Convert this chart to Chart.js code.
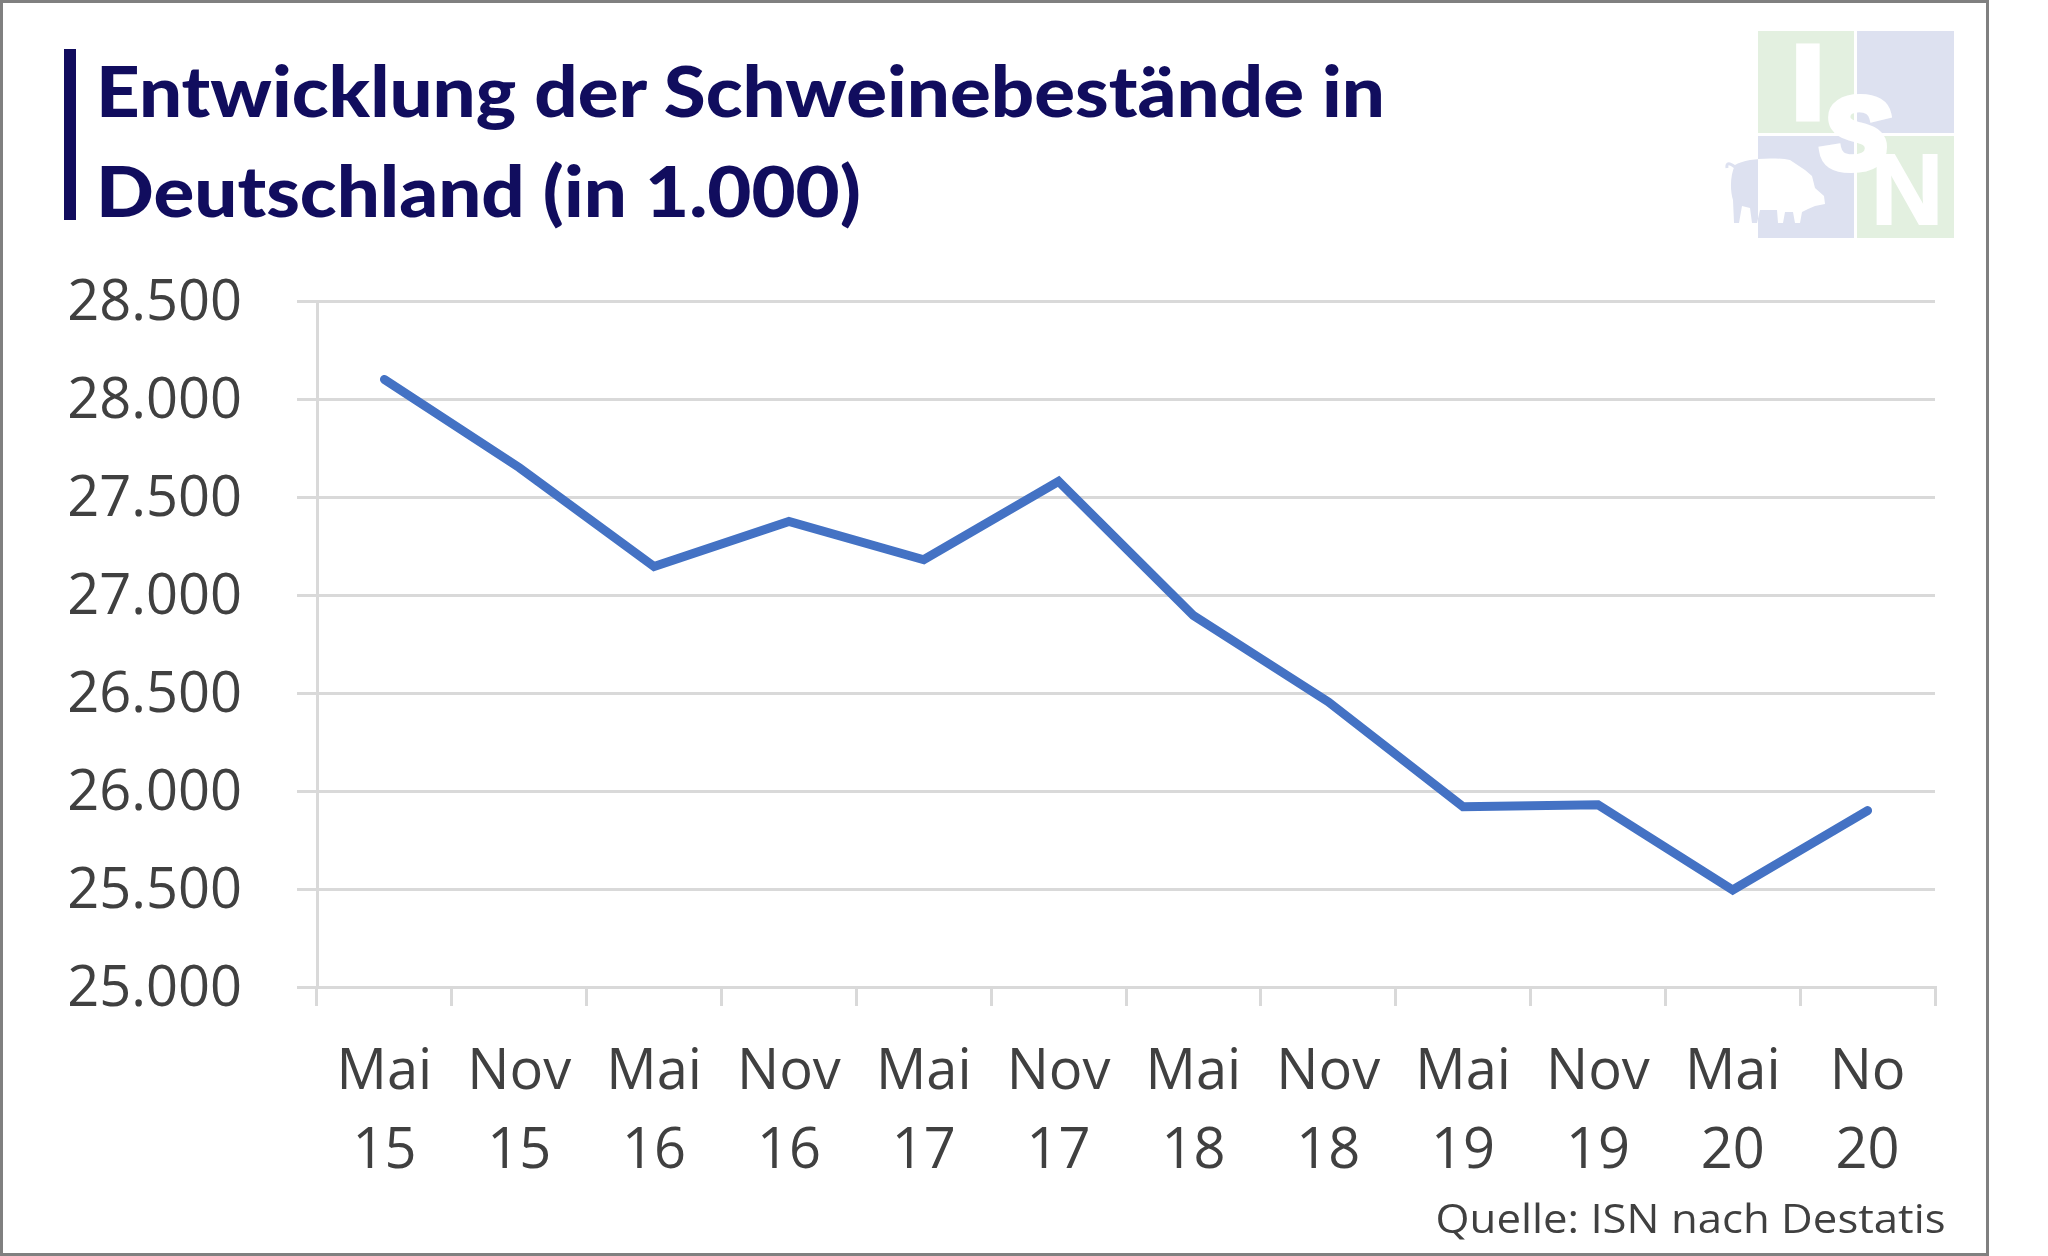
<!DOCTYPE html>
<html>
<head>
<meta charset="utf-8">
<script src="https://cdn.jsdelivr.net/npm/chart.js@4/dist/chart.umd.min.js"></script>
<style>
  html, body { margin:0; padding:0; background:#fff; }
  #wrap { position:relative; width:2048px; height:1256px; overflow:hidden; background:#fff; }
  #frame { position:absolute; left:0; top:0; width:1989px; height:1256px; box-sizing:border-box; border:3px solid #808080; pointer-events:none; }
  #c { position:absolute; left:0; top:0; }
  .title { position:absolute; left:96px; font-family:Lato, 'Open Sans', sans-serif; font-weight:900; font-size:71px; line-height:71px; color:#110D5E; white-space:nowrap; transform-origin:left center; }
  #bar { position:absolute; left:64px; top:49px; width:12px; height:171px; background:#110D5E; }
  #src { position:absolute; top:1190px; right:102px; font-family:'Open Sans', sans-serif; font-size:40px; line-height:normal; color:#404040; white-space:nowrap; transform-origin:right center; }
  #logo { position:absolute; left:0; top:0; }
</style>
</head>
<body>
<div id="wrap">
  <canvas id="c" width="2048" height="1256"></canvas>
  <div id="bar"></div>
  <div class="title" id="t1" style="top:54px">Entwicklung der Schweinebestände in</div>
  <div class="title" id="t2" style="top:154px">Deutschland (in 1.000)</div>
  <svg id="logo" width="2048" height="260" viewBox="0 0 2048 260">
    <defs>
      <clipPath id="sqBL"><rect x="1758" y="136" width="96" height="102"/></clipPath>
      <path id="pig" d="M1735,165 C1745,158 1775,157 1790,160 L1805,170 L1812,176 L1815,188 L1824,196 L1825,204 L1815,206 L1808,209 L1802,212 L1800,223 L1795,223 L1793,212 L1785,212 L1783,223 L1778,223 L1777,210 L1760,210 L1757,223 L1752,223 L1750,208 L1742,206 L1739,223 L1734,223 L1733,200 C1730,190 1730,176 1735,165 Z"/>
    </defs>
    <rect x="1758" y="31" width="96" height="102" fill="#E3F0E0"/>
    <rect x="1857" y="31" width="97" height="102" fill="#DDE1F0"/>
    <rect x="1758" y="136" width="96" height="102" fill="#DDE1F0"/>
    <rect x="1857" y="136" width="97" height="102" fill="#E3F0E0"/>
    <path d="M1735,167 C1730,163 1726,162 1727,168" stroke="#DDE1F0" stroke-width="3" fill="none"/>
    <use href="#pig" fill="#DDE1F0"/>
    <use href="#pig" fill="#ffffff" clip-path="url(#sqBL)"/>
    <text x="1808" y="117" text-anchor="middle" font-family="Liberation Sans, Arial, sans-serif" font-weight="bold" font-size="100" fill="#fff" stroke="#fff" stroke-width="9">I</text>
    <text x="1855" y="168" text-anchor="middle" font-family="Liberation Sans, Arial, sans-serif" font-weight="bold" font-style="italic" font-size="100" fill="#fff" stroke="#fff" stroke-width="8">S</text>
    <text x="1907" y="224" text-anchor="middle" font-family="Liberation Sans, Arial, sans-serif" font-weight="bold" font-size="100" fill="#fff" stroke="#fff" stroke-width="2">N</text>
  </svg>
  <div id="src">Quelle: ISN nach Destatis</div>
  <div id="frame"></div>
</div>
<script>
// ---- data ----
const months = ['Mai','Nov','Mai','Nov','Mai','Nov','Mai','Nov','Mai','Nov','Mai','No'];
const years  = ['15','15','16','16','17','17','18','18','19','19','20','20'];
const values = [28100, 27650, 27145, 27375, 27180, 27580, 26895, 26455, 25920, 25930, 25495, 25900];
const yMin = 25000, yMax = 28500, yStep = 500;

const labels = months.map((m, i) => [m, years[i]]);

function scaleTo(id, target) {
  const el = document.getElementById(id);
  const w = el.getBoundingClientRect().width;
  return target / w;
}
const ts = scaleTo('t1', 1289);
document.getElementById('t1').style.transform = 'scaleX(' + ts + ')';
document.getElementById('t2').style.transform = 'scaleX(' + ts + ')';
const ss = scaleTo('src', 510);
document.getElementById('src').style.transform = 'scaleX(' + ss + ')';

function fmt(v) {
  return String(v).replace(/\B(?=(\d{3})+(?!\d))/g, '.');
}

const grid = '#D9D9D9';
const txt = '#404040';

new Chart(document.getElementById('c'), {
  type: 'line',
  data: {
    labels: labels,
    datasets: [{
      data: values,
      borderColor: '#4472C4',
      backgroundColor: '#4472C4',
      borderWidth: 9,
      pointRadius: 0,
      tension: 0,
      borderCapStyle: 'round',
      borderJoinStyle: 'miter',
      fill: false
    }]
  },
  options: {
    responsive: false,
    animation: false,
    devicePixelRatio: 1,
    layout: { padding: { left: 0, top: 301, right: 113, bottom: 0 } },
    plugins: { legend: { display: false }, tooltip: { enabled: false }, title: { display: false } },
    scales: {
      x: {
        type: 'category',
        offset: true,
        grid: { offset: true, drawOnChartArea: false, drawTicks: true, tickLength: 19, color: grid, lineWidth: 3 },
        border: { display: true, color: grid, width: 3 },
        ticks: { color: txt, font: { family: 'Open Sans', size: 56, lineHeight: 1.4 }, padding: 28, maxRotation: 0, minRotation: 0, autoSkip: false },
        afterFit: s => { s.height = 269; }
      },
      y: {
        min: yMin, max: yMax,
        grid: { color: grid, lineWidth: 3, drawTicks: true, tickLength: 20 },
        border: { display: true, color: grid, width: 3 },
        ticks: { stepSize: yStep, color: txt, font: { family: 'Open Sans', size: 56 }, padding: 55, labelOffset: 3, callback: v => fmt(v) },
        afterFit: s => { s.width = 317; }
      }
    }
  }
});
</script>
</body>
</html>
